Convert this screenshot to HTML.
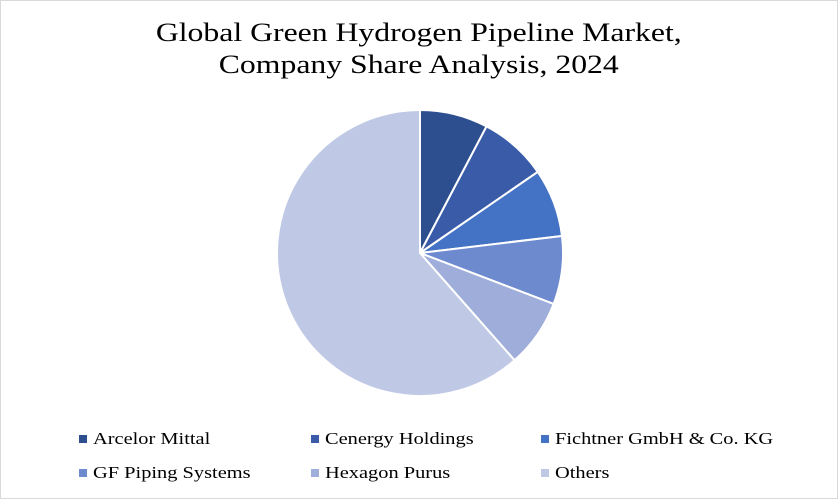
<!DOCTYPE html>
<html><head><meta charset="utf-8"><style>
html,body{margin:0;padding:0;background:#fff}
#wrap{position:relative;width:836px;height:497px;border:1px solid #d9d9d9;overflow:hidden;font-family:"Liberation Serif",serif}
#title{position:absolute;left:0;width:836px;top:16px;text-align:center;font-size:26px;line-height:32px;color:#000;transform:scaleX(1.22);transform-origin:419px 0}
.leg{position:absolute;font-size:17px;color:#000;white-space:nowrap}
.sw{display:inline-block;width:8px;height:8px;margin-right:6px;vertical-align:1px}
.lt{display:inline-block;transform:scaleX(1.2);transform-origin:0 0}
</style></head><body>
<div id="wrap">
<div id="title">Global Green Hydrogen Pipeline Market,<br>Company Share Analysis, 2024</div>
<svg id="pie" width="836" height="420" style="position:absolute;left:0;top:0"></svg>
<div id="legend"></div>
</div>
<script>
const categories=["Arcelor Mittal","Cenergy Holdings","Fichtner GmbH & Co. KG","GF Piping Systems","Hexagon Purus","Others"];
const shares=[7.7,7.7,7.7,7.7,7.7,61.5];
const colors=["#2E4F8F","#3A5CA8","#4472C4","#6E8ACF","#9EADD9","#BFC9E5"];
const cx=419,cy=252,r=143;
const svg=document.getElementById('pie');
const total=shares.reduce((a,b)=>a+b,0);
let a0=0;
function pt(a){return [cx+r*Math.sin(a),cy-r*Math.cos(a)];}
shares.forEach((v,i)=>{
  const a1=a0+v/total*2*Math.PI;
  const p0=pt(a0),p1=pt(a1);
  const large=(a1-a0)>Math.PI?1:0;
  const p=document.createElementNS('http://www.w3.org/2000/svg','path');
  p.setAttribute('d',`M${cx},${cy}L${p0[0]},${p0[1]}A${r},${r} 0 ${large} 1 ${p1[0]},${p1[1]}Z`);
  p.setAttribute('fill',colors[i]);
  p.setAttribute('stroke','#fff');
  p.setAttribute('stroke-width','2');
  
  
  svg.appendChild(p);
  a0=a1;
});
const lx=[78,310,540],ly=[428,462];
const lg=document.getElementById('legend');
categories.forEach((c,i)=>{
  const d=document.createElement('div');
  d.className='leg';
  d.style.left=lx[i%3]+'px';
  d.style.top=ly[Math.floor(i/3)]+'px';
  d.innerHTML='<span class="sw" style="background:'+colors[i]+'"></span><span class="lt">'+c.replace('&','&amp;')+'</span>';
  
  
  lg.appendChild(d);
});
</script>
</body></html>
